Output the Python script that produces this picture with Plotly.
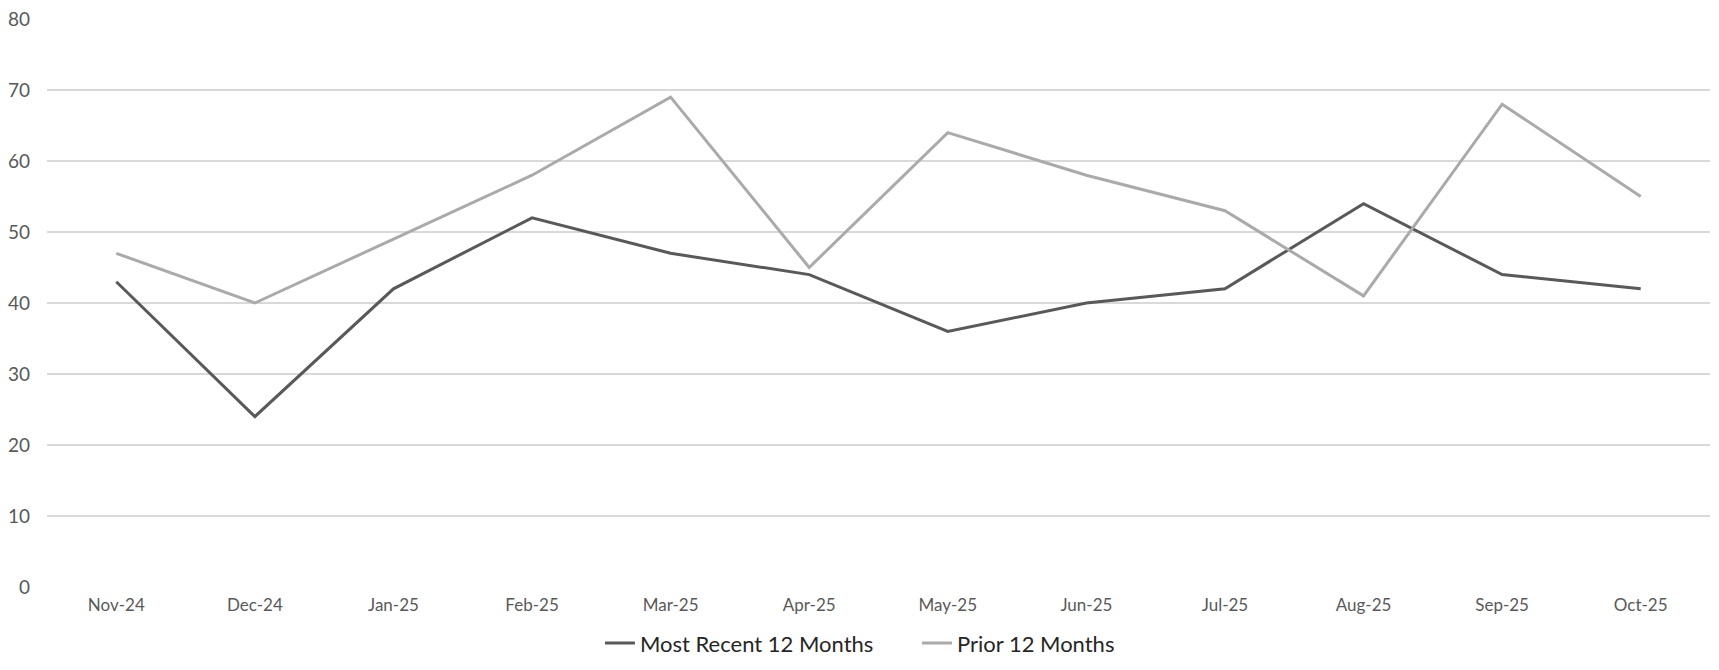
import plotly.graph_objects as go

months = ["Nov-24", "Dec-24", "Jan-25", "Feb-25", "Mar-25", "Apr-25",
          "May-25", "Jun-25", "Jul-25", "Aug-25", "Sep-25", "Oct-25"]
recent = [43, 24, 42, 52, 47, 44, 36, 40, 42, 54, 44, 42]
prior = [47, 40, 49, 58, 69, 45, 64, 58, 53, 41, 68, 55]

fig = go.Figure()
fig.add_trace(go.Scatter(x=months, y=recent, mode="lines", name="Most Recent 12 Months",
                         line=dict(color="#595959", width=3)))
fig.add_trace(go.Scatter(x=months, y=prior, mode="lines", name="Prior 12 Months",
                         line=dict(color="#AAAAAA", width=3)))

fig.update_layout(
    width=1719, height=670,
    margin=dict(l=47, r=9, t=19, b=83, autoexpand=False),
    paper_bgcolor="white", plot_bgcolor="white",
    font=dict(family="Lato, Open Sans, sans-serif", color="#595959", size=17),
    showlegend=True,
    legend=dict(orientation="h", x=0.3325, xanchor="left", y=-0.099, yanchor="middle",
                font=dict(size=22, color="#262626"), tracegroupgap=0,
                entrywidth=272, entrywidthmode="pixels"),
    xaxis=dict(type="category", range=[-0.5, 11.5], showgrid=False, zeroline=False,
               showline=False, ticks="", automargin=False, ticklabelstandoff=6,
               tickfont=dict(size=17, color="#595959")),
    yaxis=dict(range=[0, 80], dtick=10, showgrid=True, gridcolor="#D9D9D9", gridwidth=1.5,
               zeroline=False, showline=False, ticks="", ticklabelstandoff=16, automargin=False,
               tickfont=dict(size=19, color="#595959")),
)

fig.write_html("out.html", config={"displayModeBar": False},
               post_script="document.body.style.margin='0px';")
